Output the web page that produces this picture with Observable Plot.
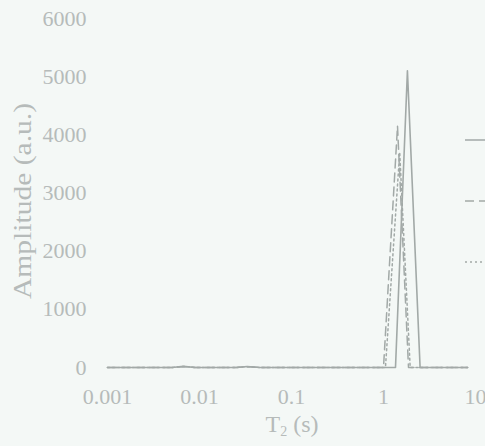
<!DOCTYPE html>
<html>
<head>
<meta charset="utf-8">
<script src="https://cdn.jsdelivr.net/npm/d3@7"></script>
<script src="https://cdn.jsdelivr.net/npm/@observablehq/plot@0.6"></script>
<style>
  html, body { margin: 0; padding: 0; background: #f4f8f6; overflow: hidden; }
  #wrap { position: relative; width: 485px; height: 446px; }
  #legend { position: absolute; left: 0; top: 0; }
</style>
</head>
<body>
<div id="wrap"></div>
<script>
// ---- data ----
const xTicks = [0.001, 0.01, 0.1, 1, 10];
const xTickLabels = ["0.001", "0.01", "0.1", "1", "10"];
const yTicks = [0, 1000, 2000, 3000, 4000, 5000, 6000];

const t2A = [0.001, 0.005, 0.0067, 0.009, 0.025, 0.033, 0.045, 0.2, 1.35, 1.82, 2.5, 8.2];
const ampA = [0, 0, 20, 0, 0, 18, 0, 0, 0, 5100, 0, 0];

const t2B = [0.001, 0.005, 0.0067, 0.009, 0.025, 0.033, 0.045, 1.0, 1.42, 1.87, 8.2];
const ampB = [0, 0, 15, 0, 0, 12, 0, 0, 4150, 0, 0];

const t2C = [0.001, 0.005, 0.0067, 0.009, 0.025, 0.033, 0.045, 1.05, 1.5, 1.95, 8.2];
const ampC = [0, 0, 18, 0, 0, 15, 0, 0, 3700, 0, 0];

const seriesNames = ["A", "B", "C"];

const toRows = (xs, ys, s) => xs.map((x, i) => ({t2: x, amp: ys[i], s}));
const rowsA = toRows(t2A, ampA, seriesNames[0]);
const rowsB = toRows(t2B, ampB, seriesNames[1]);
const rowsC = toRows(t2C, ampC, seriesNames[2]);

const textColor = "#b6bbba";
const lineColor = "#a2a9a7";
const font = "Liberation Serif, Times New Roman, serif";

const chart = Plot.plot({
  width: 485,
  height: 446,
  marginLeft: 107,
  marginRight: 10,
  marginTop: 18,
  marginBottom: 79,
  style: {background: "transparent", fontFamily: font, fontSize: "22px", color: textColor},
  x: {type: "log", domain: [0.001, 10], ticks: xTicks, tickFormat: d => xTickLabels[xTicks.indexOf(d)], tickSize: 0, tickPadding: 21, label: null},
  y: {domain: [0, 6000], ticks: yTicks, tickFormat: d => String(d), tickSize: 0, tickPadding: 21, label: null},
  marks: [
    Plot.line(rowsC, {x: "t2", y: "amp", stroke: lineColor, strokeWidth: 1.5, strokeDasharray: "2,3"}),
    Plot.line(rowsB, {x: "t2", y: "amp", stroke: lineColor, strokeWidth: 1.5, strokeDasharray: "9,5"}),
    Plot.line(rowsA, {x: "t2", y: "amp", stroke: lineColor, strokeWidth: 1.6})
  ]
});

const svg = d3.select(chart);
// y-axis title
svg.append("text")
  .attr("transform", "translate(31,201) rotate(-90)")
  .attr("text-anchor", "middle")
  .attr("fill", textColor)
  .attr("font-family", font)
  .attr("font-size", 25)
  .attr("textLength", 196)
  .attr("lengthAdjust", "spacingAndGlyphs")
  .text("Amplitude (a.u.)");
// x-axis title with subscript
const xt = svg.append("text")
  .attr("x", 292).attr("y", 432)
  .attr("text-anchor", "middle")
  .attr("fill", textColor)
  .attr("font-family", font)
  .attr("font-size", 24);
xt.append("tspan").text("T");
xt.append("tspan").attr("font-size", 14).attr("dy", 4).text("2");
xt.append("tspan").attr("dy", -4).text(" (s)");

document.getElementById("wrap").appendChild(chart);

// legend (line samples; labels fall outside the cropped view)
const leg = d3.select("#wrap").append("svg")
  .attr("id", "legend").attr("width", 485).attr("height", 446);
const legendStyles = [
  {y: 140, dash: null},
  {y: 201, dash: "9,5"},
  {y: 262, dash: "2,3"}
];
legendStyles.forEach(d => {
  leg.append("line")
    .attr("x1", 465).attr("x2", 510)
    .attr("y1", d.y).attr("y2", d.y)
    .attr("stroke", lineColor).attr("stroke-width", 1.5)
    .attr("stroke-dasharray", d.dash);
});
</script>
</body>
</html>
